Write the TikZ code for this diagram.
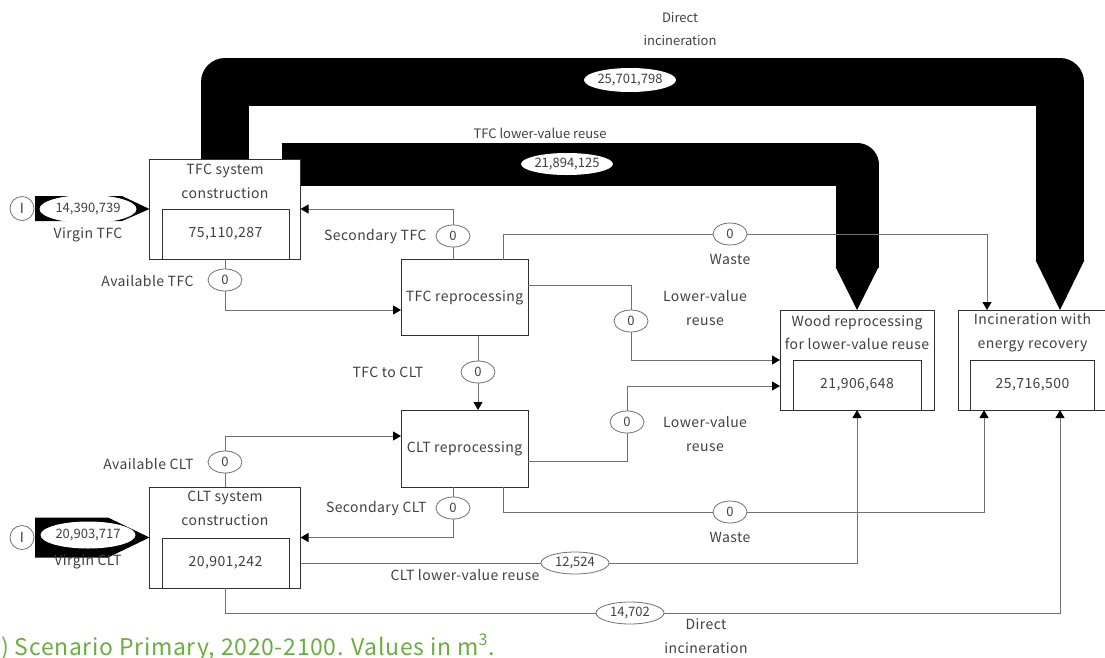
\documentclass[tikz,border=0pt]{standalone}
\usepackage{fontspec}
\setmainfont{Noto Sans CJK JP}[LetterSpace=3]
\newfontfamily\numfont{Noto Sans CJK JP}
\usetikzlibrary{arrows.meta,shapes.geometric,calc}
\definecolor{txt}{HTML}{404040}
\definecolor{linegray}{HTML}{707070}
\definecolor{boxgray}{HTML}{303030}
\definecolor{capgreen}{HTML}{6AAE3F}
\begin{document}
\begin{tikzpicture}[x=1pt,y=-1pt,
  every node/.style={text=txt, font=\fontsize{14}{23.5}\selectfont},
  outerbox/.style={draw=boxgray, fill=white, line width=0.9pt, inner sep=0, outer sep=0},
  stockbox/.style={draw=boxgray, line width=0.9pt, inner sep=0, outer sep=0},
  procbox/.style={draw=boxgray, fill=white, line width=0.9pt, inner sep=0, outer sep=0, minimum width=127, minimum height=76},
  val/.style={ellipse, draw=linegray, fill=white, line width=0.8pt, inner sep=0, minimum width=34, minimum height=22, font=\numfont\fontsize{13}{13}\selectfont},
  bigval/.style={ellipse, fill=white, inner sep=0, font=\numfont\fontsize{13}{13}\selectfont},
  conn/.style={draw=linegray, line width=1pt},
  arr/.style={conn, -{Triangle[length=8pt,width=9pt,color=black,fill=black]}},
  band/.style={draw=black, line join=round, line cap=butt},
  lbl/.style={align=center},
]
\useasboundingbox (0,0) rectangle (1105,657);

% ---- process boxes (positions only, drawn after the wide bands) ----
\path (225,209) node[outerbox, draw=none, fill=none, minimum width=151, minimum height=100] (tfcsys) {};
\path (225,537.5) node[outerbox, draw=none, fill=none, minimum width=151, minimum height=101] (cltsys) {};
\path (857,360) node[outerbox, draw=none, fill=none, minimum width=154, minimum height=100] (wood) {};
\path (1032.5,360) node[outerbox, draw=none, fill=none, minimum width=149, minimum height=100] (incin) {};

% ---- wide flows ----
\coordinate (diA) at (225,82);
\coordinate (diB) at (1060,82);
\coordinate (diC) at (1060,260.5);
\draw[band, line width=48] (tfcsys.north) -- (diA) -- (diB) -- (diC);
\fill (1035.5,260) -- (1084.5,260) -- ([xshift=27.5]incin.north) -- cycle;

\coordinate (lvA) at ([xshift=-18.5,yshift=-5.5]tfcsys.north east);
\coordinate (lvB) at (857,164.5);
\coordinate (lvC) at (857,267.5);
\draw[band, line width=43] (lvA) -- (lvB) -- (lvC);
\fill (835.5,267) -- (878.5,267) -- (wood.north) -- cycle;

\node[bigval, minimum width=92, minimum height=24] (vdi) at (630,80) {25,701,798};
\node[bigval, minimum width=90, minimum height=22] (vlv) at (567,164) {21,894,125};
\node[lbl, font=\numfont\fontsize{13}{23.5}\selectfont] (ldi) at (680,29) {Direct\\incineration};
\node[lbl, font=\numfont\fontsize{13}{13}\selectfont] (llv) at (540,133) {TFC lower-value reuse};

% ---- system boxes ----
\node[outerbox, minimum width=151, minimum height=100] (tfcsysb) at (tfcsys) {};
\node[stockbox, minimum width=127, minimum height=50] (tfcstock) at (225.5,234) {75,110,287};
\node[lbl] (tfctitle) at (225,181.5) {TFC system\\construction};

\node[outerbox, minimum width=151, minimum height=101] (cltsysb) at (cltsys) {};
\node[stockbox, minimum width=127, minimum height=50] (cltstock) at (225.5,563) {20,901,242};
\node[lbl] (clttitle) at (225,508.5) {CLT system\\construction};

\node[outerbox, minimum width=154, minimum height=100] (woodb) at (wood) {};
\node[stockbox, minimum width=128, minimum height=50] (woodstock) at (857,385) {21,906,648};
\node[lbl] (woodtitle) at (857,332.5) {Wood reprocessing\\for lower-value reuse};

\node[outerbox, minimum width=149, minimum height=100] (incinb) at (incin) {};
\node[stockbox, minimum width=124, minimum height=50] (incinstock) at (1032.5,385) {25,716,500};
\node[lbl] (incintitle) at (1032.5,332.5) {Incineration with\\energy recovery};

\node[procbox] (tfcrep) at (464.5,297.5) {TFC reprocessing};
\node[procbox, minimum height=77] (cltrep) at (464.5,448.5) {CLT reprocessing};

% ---- virgin inputs ----
\node[circle, draw=linegray, line width=0.8pt, minimum size=24, inner sep=0] (srctfc) at (22,208.5) {I};
\node[circle, draw=linegray, line width=0.8pt, minimum size=24, inner sep=0] (srcclt) at (22,537.5) {I};
\fill (srctfc.east) ++(1,-12.5) -- (122,196) -- (tfcsys.west) -- (122,221) -- (35,221) -- (35,196) -- cycle;
\fill (srcclt.east) ++(1,-20) -- (108,517.5) -- (cltsys.west) -- (108,557.5) -- (35,557.5) -- (35,517.5) -- cycle;
\node[bigval, minimum width=97, minimum height=28] (vvtfc) at (88,209) {14,390,739};
\node[bigval, minimum width=95, minimum height=27] (vvclt) at (88,535) {20,903,717};
\node (lvtfc) at (88,235) {Virgin TFC};
\node (lvclt) at (88,562) {Virgin CLT};

% ---- flow values ----
\node[val] (avtfc) at (225,280) {0};
\node[val] (sectfc) at (453,236) {0};
\node[val] (wastetfc) at (730,234) {0};
\node[val] (lowtfc) at (631,321) {0};
\node[val] (tfc2clt) at (478,372) {0};
\node[val] (avclt) at (225,462) {0};
\node[val] (lowclt) at (627,422) {0};
\node[val] (secclt) at (453,508) {0};
\node[val] (wasteclt) at (730,512) {0};
\node[val, minimum width=68] (lvreuse) at (575,563) {12,524};
\node[val, minimum width=68] (dincl) at (630,613) {14,702};

% ---- thin connectors ----
\draw[conn] (tfcsys.south) -- (avtfc.north);
\draw[arr] (avtfc.south) |- ([yshift=-12.5]tfcrep.west);
\draw[conn] ([xshift=-11.5]tfcrep.north) -- (sectfc.south);
\draw[arr] (sectfc.north) |- (tfcsys.east);
\draw[conn] ([xshift=38.5]tfcrep.north) |- (wastetfc.west);
\draw[arr] (wastetfc.east) -| ([xshift=-45.5]incin.north);
\draw[conn] ([yshift=12.5]tfcrep.east) -| (lowtfc.north);
\draw[arr] (lowtfc.south) |- (wood.west);
\draw[conn] ([xshift=13.5]tfcrep.south) -- (tfc2clt.north);
\draw[arr] (tfc2clt.south) -- ([xshift=13.5]cltrep.north);
\draw[conn] (cltsys.north) -- (avclt.south);
\draw[arr] (avclt.north) |- ([yshift=12.5]cltrep.west);
\draw[conn] ([yshift=-12.5]cltrep.east) -| (lowclt.south);
\draw[arr] (lowclt.north) |- ([yshift=-26]wood.west);
\draw[conn] ([xshift=-11.5]cltrep.south) -- (secclt.north);
\draw[arr] (secclt.south) |- (cltsys.east);
\draw[conn] ([xshift=38.5]cltrep.south) |- (wasteclt.west);
\draw[arr] (wasteclt.east) -| ([xshift=-48.5]incin.south);
\draw[conn] ([yshift=-25.5]cltsys.east) -- (lvreuse.west);
\draw[arr] (lvreuse.east) -| (wood.south);
\draw[conn] (cltsys.south) |- (dincl.west);
\draw[arr] (dincl.east) -| ([xshift=27.5]incin.south);

% ---- flow labels ----
\node[anchor=east] (lavtfc) at (197,281) {Available TFC};
\node[anchor=east] (lsectfc) at (430,237) {Secondary TFC};
\node (lwastetfc) at (730,259) {Waste};
\node[lbl] (llowtfc) at (705,308) {Lower-value\\reuse};
\node (ltfc2clt) at (388,372) {TFC to CLT};
\node[anchor=east] (lavclt) at (197,464) {Available CLT};
\node[lbl] (llowclt) at (705,434) {Lower-value\\reuse};
\node[anchor=east] (lsecclt) at (430,509) {Secondary CLT};
\node (lwasteclt) at (730,537) {Waste};
\node (llvreuse) at (465,575) {CLT lower-value reuse};
\node[lbl] (ldincl) at (706,636) {Direct\\incineration};

% ---- caption ----
\node[anchor=base west, inner sep=0, text=capgreen, font=\fontsize{23}{23}\selectfont] (caption) at (1,655) {) Scenario Primary, 2020-2100. Values in m\textsuperscript{3}.};
\end{tikzpicture}
\end{document}
